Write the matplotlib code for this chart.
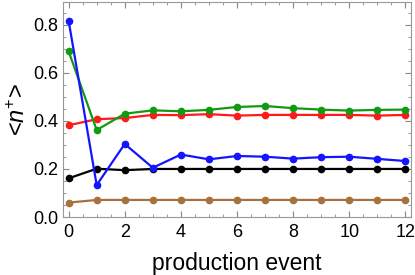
import matplotlib
matplotlib.use("Agg")
import matplotlib.pyplot as plt
from matplotlib.ticker import MultipleLocator

plt.rcParams['font.family'] = ['Liberation Sans', 'DejaVu Sans']
plt.rcParams['mathtext.fontset'] = 'custom'
plt.rcParams['mathtext.rm'] = 'Liberation Sans'
plt.rcParams['mathtext.it'] = 'Liberation Sans:italic'

eventi = list(range(13))
marrone = [0.060, 0.071, 0.071, 0.071, 0.071, 0.071, 0.071, 0.071, 0.071, 0.071, 0.071, 0.071, 0.071]
nero = [0.161, 0.201, 0.195, 0.200, 0.200, 0.200, 0.200, 0.200, 0.200, 0.200, 0.200, 0.200, 0.200]
rosso = [0.382, 0.407, 0.412, 0.425, 0.424, 0.428, 0.422, 0.425, 0.425, 0.425, 0.425, 0.422, 0.425]
verde = [0.690, 0.362, 0.430, 0.444, 0.440, 0.446, 0.458, 0.462, 0.453, 0.447, 0.443, 0.446, 0.447]
blu = [0.817, 0.133, 0.304, 0.205, 0.260, 0.240, 0.254, 0.251, 0.243, 0.249, 0.251, 0.242, 0.233]

serie = [
    (marrone, '#a8703c'),
    (nero, 'black'),
    (rosso, '#ff1a1a'),
    (verde, '#129a12'),
    (blu, '#1414ff'),
]

fig = plt.figure(figsize=(4.15, 2.75), dpi=100)
ax = fig.add_axes([63 / 415, 1 - 217 / 275, (411 - 63) / 415, (217 - 2) / 275])

for valori, colore in serie:
    ax.plot(eventi, valori, '-o', color=colore, lw=1.6, ms=4.5)

ax.set_xlim(-0.2, 12.2)
ax.set_ylim(0, 0.895)
ax.xaxis.set_major_locator(MultipleLocator(2))
ax.xaxis.set_minor_locator(MultipleLocator(0.5))
ax.yaxis.set_major_locator(MultipleLocator(0.2))
ax.yaxis.set_minor_locator(MultipleLocator(0.05))
ax.yaxis.set_major_formatter(matplotlib.ticker.FormatStrFormatter('%.1f'))

ax.tick_params(which='both', direction='in', top=True, right=True, colors='#888888', labelcolor='black', labelsize=13)
ax.tick_params(which='major', length=4)
ax.tick_params(which='minor', length=2)
ax.tick_params(axis='x', pad=5)
for s in ax.spines.values():
    s.set_color('#999999')

ax.set_xlabel('production event', fontsize=16.5, labelpad=8)
ax.set_ylabel(r'<$n^{+}$>', fontsize=17, labelpad=2)

fig.savefig('out.png', dpi=100)
